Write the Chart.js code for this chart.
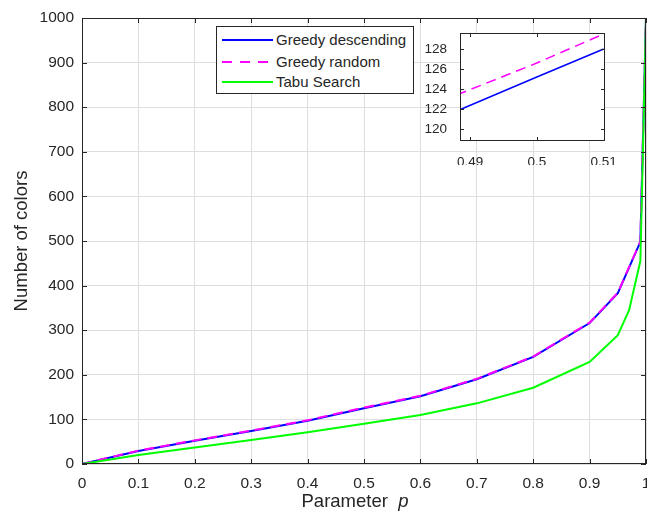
<!DOCTYPE html>
<html>
<head>
<meta charset="utf-8">
<script src="https://cdn.jsdelivr.net/npm/chart.js@4/dist/chart.umd.min.js"></script>
<style>
  body { margin: 0; background: #fff; }
  #wrap { position: relative; width: 647px; height: 517px; }
  #main { position: absolute; left: 0; top: 0; }
  #inset { position: absolute; left: 400px; top: 20px; }
  #legend { position: absolute; left: 216px; top: 26px; width: 196px; height: 66px;
    border: 1px solid #262626; background: #fff; font: 15px Arial, "Liberation Sans", sans-serif; color: #262626; }
  .row { position: absolute; left: 0; height: 20px; line-height: 20px; }
  .swatch { position: absolute; left: 5px; top: 9px; width: 51px; height: 2px; }
  .lbl { position: absolute; left: 59px; top: 0; white-space: nowrap; }
</style>
</head>
<body>
<div id="wrap">
  <canvas id="main" width="647" height="517"></canvas>
  <canvas id="inset" width="215" height="145"></canvas>
  <div id="legend">
    <div class="row" style="top:3px"><div class="swatch" style="background:#0000ff"></div><span class="lbl">Greedy descending</span></div>
    <div class="row" style="top:25px"><div class="swatch" style="background:repeating-linear-gradient(90deg,#ff00ff 0 10px,transparent 10px 18px)"></div><span class="lbl">Greedy random</span></div>
    <div class="row" style="top:45px"><div class="swatch" style="background:#00ff00"></div><span class="lbl">Tabu Search</span></div>
  </div>
</div>
<script>
// valores
var parametro_p = [0, 0.1, 0.2, 0.3, 0.4, 0.5, 0.6, 0.7, 0.8, 0.9, 0.95, 0.99, 1]
var greedy_descending = [0, 29, 52, 74, 97, 125, 152, 190, 240, 316, 383, 498, 1000]
var greedy_random = [0, 30, 53, 75, 98, 126.5, 153, 191, 241, 317, 384, 499, 1000]
var parametro_p_tabu = [0, 0.1, 0.2, 0.3, 0.4, 0.5, 0.6, 0.7, 0.8, 0.9, 0.95, 0.97, 0.99, 1]
var tabu_search = [0, 20, 37, 54, 71, 90, 110, 136, 171, 229, 289, 345, 455, 1000]

// zoom alrededor de p = 0.5
var inset_p = [0.488, 0.5, 0.51]
var inset_descending = [121.8, 125.2, 128]
var inset_random = [123.4, 126.6, 129.5]
var inset_x_ticks = [0.49, 0.5, 0.51]
var inset_y_ticks = [120, 122, 124, 126, 128]

var fuente = 'Arial, "Liberation Sans", sans-serif'
var color_texto = '#262626'

function puntos(xs, ys) {
    return xs.map((x, i) => ({ x: x, y: ys[i] }))
}

// caja tipo matlab con marcas hacia adentro
function plugin_caja(largo) {
    return {
        id: 'caja',
        afterDatasetsDraw(chart) {
            const { ctx, chartArea: a, scales } = chart
            ctx.save()
            ctx.strokeStyle = color_texto
            ctx.lineWidth = 1
            ctx.strokeRect(a.left + 0.5, a.top + 0.5, a.right - a.left - 1, a.bottom - a.top - 1)
            ctx.beginPath()
            scales.x.ticks.forEach(t => {
                let px = Math.round(scales.x.getPixelForValue(t.value)) + 0.5
                ctx.moveTo(px, a.bottom); ctx.lineTo(px, a.bottom - largo)
                ctx.moveTo(px, a.top); ctx.lineTo(px, a.top + largo)
            })
            scales.y.ticks.forEach(t => {
                let py = Math.round(scales.y.getPixelForValue(t.value)) + 0.5
                ctx.moveTo(a.left, py); ctx.lineTo(a.left + largo, py)
                ctx.moveTo(a.right, py); ctx.lineTo(a.right - largo, py)
            })
            ctx.stroke()
            ctx.restore()
        }
    }
}

var titulo_x = {
    id: 'titulo_x',
    afterDraw(chart) {
        const ctx = chart.ctx
        ctx.save()
        ctx.fillStyle = color_texto
        ctx.textBaseline = 'alphabetic'
        ctx.font = '18.5px ' + fuente
        let t1 = 'Parameter  '
        let w1 = ctx.measureText(t1).width
        ctx.font = 'italic 18.5px ' + fuente
        let w2 = ctx.measureText('p').width
        let x0 = 355 - (w1 + w2) / 2
        ctx.font = '18.5px ' + fuente
        ctx.fillText(t1, x0, 507)
        ctx.font = 'italic 18.5px ' + fuente
        ctx.fillText('p', x0 + w1, 507)
        ctx.restore()
    }
}

function sin_relleno(s) {
    s.paddingLeft = 0; s.paddingRight = 0; s.paddingTop = 0; s.paddingBottom = 0
}

new Chart(document.getElementById('main'), {
    type: 'line',
    data: {
        datasets: [{
            label: 'Greedy descending',
            data: puntos(parametro_p, greedy_descending),
            borderColor: '#0000ff', borderWidth: 2, order: 2
        }, {
            label: 'Greedy random',
            data: puntos(parametro_p, greedy_random),
            borderColor: '#ff00ff', borderWidth: 2, borderDash: [10, 6], order: 1
        }, {
            label: 'Tabu Search',
            data: puntos(parametro_p_tabu, tabu_search),
            borderColor: '#00ff00', borderWidth: 2, order: 0
        }]
    },
    options: {
        responsive: false, animation: false, devicePixelRatio: 1,
        elements: { point: { radius: 0 }, line: { tension: 0 } },
        layout: { autoPadding: false, padding: { left: 0, right: 1, top: 18, bottom: 0 } },
        plugins: { legend: { display: false }, tooltip: { enabled: false } },
        scales: {
            x: {
                type: 'linear', min: 0, max: 1,
                afterFit(s) { s.height = 53; sin_relleno(s) },
                border: { display: false },
                grid: { color: '#dedede', drawTicks: false },
                ticks: {
                    stepSize: 0.1, padding: 10, maxRotation: 0, autoSkip: false,
                    color: color_texto, font: { family: fuente, size: 15.5 },
                    callback: v => String(Math.round(v * 10) / 10)
                }
            },
            y: {
                min: 0, max: 1000,
                afterFit(s) { s.width = 82; sin_relleno(s) },
                border: { display: false },
                grid: { color: '#dedede', drawTicks: false },
                ticks: {
                    stepSize: 100, padding: 8, color: color_texto, font: { family: fuente, size: 15.5 },
                    callback: v => String(v)
                },
                title: {
                    display: true, text: 'Number of colors', color: color_texto,
                    font: { family: fuente, size: 18.5 }, padding: { top: 11, bottom: 0 }
                }
            }
        }
    },
    plugins: [plugin_caja(5), titulo_x]
})

var fondo_blanco = {
    id: 'fondo_blanco',
    beforeDraw(chart) {
        const { ctx, chartArea: a } = chart
        ctx.save()
        ctx.fillStyle = '#fff'
        ctx.fillRect(a.left, a.top, a.right - a.left, a.bottom - a.top)
        ctx.restore()
    }
}

new Chart(document.getElementById('inset'), {
    type: 'line',
    data: {
        datasets: [{
            data: puntos(inset_p, inset_descending),
            borderColor: '#0000ff', borderWidth: 1.5, order: 1
        }, {
            data: puntos(inset_p, inset_random),
            borderColor: '#ff00ff', borderWidth: 1.5, borderDash: [10, 6], order: 0
        }]
    },
    options: {
        responsive: false, animation: false, devicePixelRatio: 1,
        elements: { point: { radius: 0 }, line: { tension: 0 } },
        layout: { autoPadding: false, padding: { left: 0, right: 10, top: 13, bottom: 0 } },
        plugins: { legend: { display: false }, tooltip: { enabled: false } },
        scales: {
            x: {
                type: 'linear', min: 0.4885, max: 0.5102,
                afterFit(s) { s.height = 24; sin_relleno(s) },
                afterBuildTicks(s) { s.ticks = inset_x_ticks.map(v => ({ value: v })) },
                border: { display: false },
                grid: { display: false },
                ticks: {
                    padding: 5, maxRotation: 0, autoSkip: false,
                    color: color_texto, font: { family: fuente, size: 13.5 },
                    callback: v => String(v)
                }
            },
            y: {
                min: 118.8, max: 129.6,
                afterFit(s) { s.width = 60; sin_relleno(s) },
                afterBuildTicks(s) { s.ticks = inset_y_ticks.map(v => ({ value: v })) },
                border: { display: false },
                grid: { display: false },
                ticks: { padding: 5, autoSkip: false, color: color_texto, font: { family: fuente, size: 13.5 } }
            }
        }
    },
    plugins: [fondo_blanco, plugin_caja(4)]
})
</script>
</body>
</html>
